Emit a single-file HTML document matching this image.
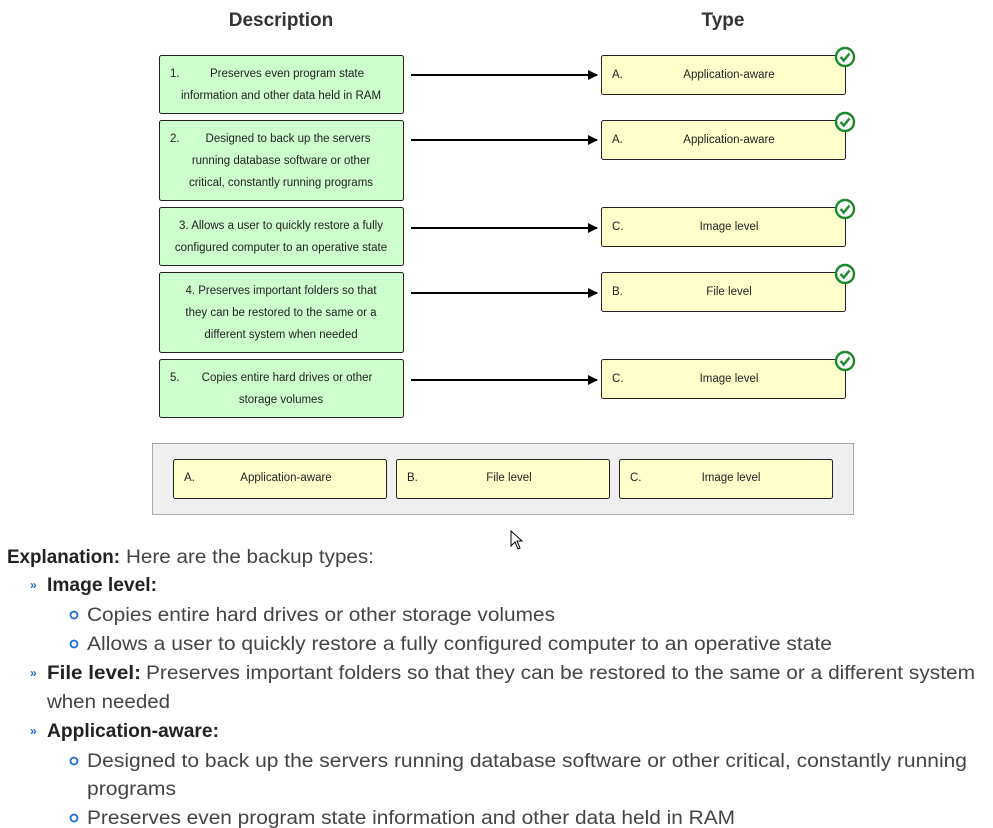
<!DOCTYPE html>
<html><head><meta charset="utf-8"><style>
html,body{margin:0;padding:0;background:#fff;width:993px;height:828px;overflow:hidden}
svg text{font-family:"Liberation Sans",sans-serif}
</style></head><body>
<svg width="993" height="828" viewBox="0 0 993 828" xmlns="http://www.w3.org/2000/svg">
<defs><marker id="ah" markerWidth="10" markerHeight="10" refX="9" refY="5" orient="auto" markerUnits="userSpaceOnUse"><path d="M0,0 L10,5 L0,10 z" fill="#000"/></marker>
<g id="chk"><circle r="9" fill="#fff" stroke="#1a8a2a" stroke-width="2.4"/><path d="M-4.5,0 L-1.2,3.5 L4.5,-3.5" fill="none" stroke="#1a8a2a" stroke-width="2.4"/></g></defs>
<text x="281" y="26" font-size="19" font-weight="bold" fill="#333" text-anchor="middle">Description</text>
<text x="723" y="26" font-size="19" font-weight="bold" fill="#333" text-anchor="middle">Type</text>
<g fill="#ccffcc" stroke="#222" stroke-width="1">
<rect x="159.5" y="55.5" width="244" height="58" rx="2"/>
<rect x="159.5" y="120.5" width="244" height="80" rx="2"/>
<rect x="159.5" y="207.5" width="244" height="58" rx="2"/>
<rect x="159.5" y="272.5" width="244" height="80" rx="2"/>
<rect x="159.5" y="359.5" width="244" height="58" rx="2"/>
</g>
<g font-size="11.5" fill="#222" text-anchor="middle">
<text x="170" y="77" text-anchor="start">1.</text><text x="287" y="77">Preserves even program state</text><text x="281" y="99">information and other data held in RAM</text>
<text x="170" y="142" text-anchor="start">2.</text><text x="288" y="142">Designed to back up the servers</text><text x="281" y="164">running database software or other</text><text x="281" y="186">critical, constantly running programs</text>
<text x="281" y="229">3.  Allows a user to quickly restore a fully</text><text x="281" y="251">configured computer to an operative state</text>
<text x="281" y="294">4.  Preserves important folders so that</text><text x="281" y="316">they can be restored to the same or a</text><text x="281" y="338">different system when needed</text>
<text x="170" y="381" text-anchor="start">5.</text><text x="287" y="381">Copies entire hard drives or other</text><text x="281" y="403">storage volumes</text>
</g>
<g stroke="#000" stroke-width="2" marker-end="url(#ah)">
<line x1="411" y1="75" x2="597" y2="75"/><line x1="411" y1="140" x2="597" y2="140"/><line x1="411" y1="228" x2="597" y2="228"/><line x1="411" y1="293" x2="597" y2="293"/><line x1="411" y1="380" x2="597" y2="380"/>
</g>
<g fill="#ffffcc" stroke="#222" stroke-width="1">
<rect x="601.5" y="55.5" width="244" height="39" rx="2"/>
<rect x="601.5" y="120.5" width="244" height="39" rx="2"/>
<rect x="601.5" y="207.5" width="244" height="39" rx="2"/>
<rect x="601.5" y="272.5" width="244" height="39" rx="2"/>
<rect x="601.5" y="359.5" width="244" height="39" rx="2"/>
</g>
<g font-size="11.5" fill="#222" text-anchor="middle">
<text x="612" y="78" text-anchor="start">A.</text><text x="729" y="78">Application-aware</text>
<text x="612" y="143" text-anchor="start">A.</text><text x="729" y="143">Application-aware</text>
<text x="612" y="230" text-anchor="start">C.</text><text x="729" y="230">Image level</text>
<text x="612" y="295" text-anchor="start">B.</text><text x="729" y="295">File level</text>
<text x="612" y="382" text-anchor="start">C.</text><text x="729" y="382">Image level</text>
</g>
<use href="#chk" x="845" y="57"/><use href="#chk" x="845" y="122"/><use href="#chk" x="845" y="209"/><use href="#chk" x="845" y="274"/><use href="#chk" x="845" y="361"/>
<rect x="152.5" y="443.5" width="701" height="71" fill="#efefef" stroke="#aaa"/>
<g fill="#ffffcc" stroke="#222" stroke-width="1">
<rect x="173.5" y="459.5" width="213" height="39" rx="2"/>
<rect x="396.5" y="459.5" width="213" height="39" rx="2"/>
<rect x="619.5" y="459.5" width="213" height="39" rx="2"/>
</g>
<g font-size="11.5" fill="#222" text-anchor="middle">
<text x="184" y="481" text-anchor="start">A.</text><text x="286" y="481">Application-aware</text>
<text x="407" y="481" text-anchor="start">B.</text><text x="509" y="481">File level</text>
<text x="630" y="481" text-anchor="start">C.</text><text x="731" y="481">Image level</text>
</g>
<path d="M511,531 L511,546 L515,542 L518,549 L520,548 L517,541 L522,541 Z" fill="#fff" stroke="#000" stroke-width="1"/>
<g font-size="19" fill="#444">
<text x="7" y="563" fill="#222" font-weight="bold" textLength="113" lengthAdjust="spacingAndGlyphs">Explanation:</text>
<text x="126" y="563" textLength="248" lengthAdjust="spacingAndGlyphs">Here are the backup types:</text>
<text x="47" y="591" fill="#222" font-weight="bold" textLength="110" lengthAdjust="spacingAndGlyphs">Image level:</text>
<text x="87" y="621" textLength="468" lengthAdjust="spacingAndGlyphs">Copies entire hard drives or other storage volumes</text>
<text x="87" y="650" textLength="745" lengthAdjust="spacingAndGlyphs">Allows a user to quickly restore a fully configured computer to an operative state</text>
<text x="47" y="679" fill="#222" font-weight="bold" textLength="94" lengthAdjust="spacingAndGlyphs">File level:</text>
<text x="146" y="679" textLength="829" lengthAdjust="spacingAndGlyphs">Preserves important folders so that they can be restored to the same or a different system</text>
<text x="47" y="708" textLength="123" lengthAdjust="spacingAndGlyphs">when needed</text>
<text x="47" y="737" fill="#222" font-weight="bold" textLength="172" lengthAdjust="spacingAndGlyphs">Application-aware:</text>
<text x="87" y="767" textLength="880" lengthAdjust="spacingAndGlyphs">Designed to back up the servers running database software or other critical, constantly running</text>
<text x="87" y="795" textLength="89" lengthAdjust="spacingAndGlyphs">programs</text>
<text x="87" y="824" textLength="648" lengthAdjust="spacingAndGlyphs">Preserves even program state information and other data held in RAM</text>
</g>
<g fill="#1a6fd0" font-size="12" font-weight="bold"><text x="30" y="589">»</text><text x="30" y="677">»</text><text x="30" y="735">»</text></g>
<g fill="none" stroke="#1a6fd0" stroke-width="1.8"><circle cx="74" cy="615" r="3.5"/><circle cx="74" cy="644" r="3.5"/><circle cx="74" cy="761" r="3.5"/><circle cx="74" cy="818" r="3.5"/></g>
</svg>
</body></html>
